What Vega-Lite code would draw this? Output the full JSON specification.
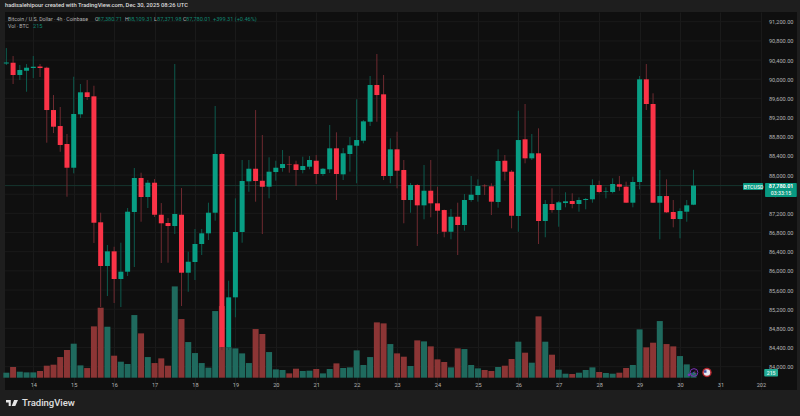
{
  "$schema": "https://vega.github.io/schema/vega-lite/v6.json",
  "width": 792,
  "height": 378,
  "autosize": "none",
  "padding": {"left": 5, "top": 12, "right": 3, "bottom": 26},
  "background": "#1e1e1e",
  "view": {"fill": "#0f0f0f", "stroke": null},
  "config": {"text": {"font": "Roboto"}, "axis": {"labelFont": "Roboto"}},
  "title": {
    "text": "hadisalehipour created with TradingView.com, Dec 30, 2025 08:26 UTC",
    "anchor": "start",
    "frame": "group",
    "font": "Roboto",
    "fontSize": 5.8,
    "fontWeight": 500,
    "color": "#dddddd",
    "offset": 4
  },
  "datasets": {
    "grid": [
      {"price": 84000, "from": "2025-12-13T07:12:00Z", "to": "2026-01-01T00:00:00Z"},
      {"price": 84400, "from": "2025-12-13T07:12:00Z", "to": "2026-01-01T00:00:00Z"},
      {"price": 84800, "from": "2025-12-13T07:12:00Z", "to": "2026-01-01T00:00:00Z"},
      {"price": 85200, "from": "2025-12-13T07:12:00Z", "to": "2026-01-01T00:00:00Z"},
      {"price": 85600, "from": "2025-12-13T07:12:00Z", "to": "2026-01-01T00:00:00Z"},
      {"price": 86000, "from": "2025-12-13T07:12:00Z", "to": "2026-01-01T00:00:00Z"},
      {"price": 86400, "from": "2025-12-13T07:12:00Z", "to": "2026-01-01T00:00:00Z"},
      {"price": 86800, "from": "2025-12-13T07:12:00Z", "to": "2026-01-01T00:00:00Z"},
      {"price": 87200, "from": "2025-12-13T07:12:00Z", "to": "2026-01-01T00:00:00Z"},
      {"price": 87600, "from": "2025-12-13T07:12:00Z", "to": "2026-01-01T00:00:00Z"},
      {"price": 88000, "from": "2025-12-13T07:12:00Z", "to": "2026-01-01T00:00:00Z"},
      {"price": 88400, "from": "2025-12-13T07:12:00Z", "to": "2026-01-01T00:00:00Z"},
      {"price": 88800, "from": "2025-12-13T07:12:00Z", "to": "2026-01-01T00:00:00Z"},
      {"price": 89200, "from": "2025-12-13T07:12:00Z", "to": "2026-01-01T00:00:00Z"},
      {"price": 89600, "from": "2025-12-13T07:12:00Z", "to": "2026-01-01T00:00:00Z"},
      {"price": 90000, "from": "2025-12-13T07:12:00Z", "to": "2026-01-01T00:00:00Z"},
      {"price": 90400, "from": "2025-12-13T07:12:00Z", "to": "2026-01-01T00:00:00Z"},
      {"price": 90800, "from": "2025-12-13T07:12:00Z", "to": "2026-01-01T00:00:00Z"},
      {"price": 91200, "from": "2025-12-13T07:12:00Z", "to": "2026-01-01T00:00:00Z"}
    ],
    "grayLabels": [
      {"label": "Bitcoin / U.S. Dollar · 4h · Coinbase", "when": "2025-12-13T08:59:00Z", "price": 91267},
      {"label": "O", "when": "2025-12-15T12:38:00Z", "price": 91267},
      {"label": "H", "when": "2025-12-16T06:27:00Z", "price": 91267},
      {"label": "L", "when": "2025-12-16T23:40:00Z", "price": 91267},
      {"label": "C", "when": "2025-12-17T16:53:00Z", "price": 91267},
      {"label": "Vol · BTC", "when": "2025-12-13T08:59:00Z", "price": 91121}
    ],
    "greenLabels": [
      {"label": "87,380.71", "when": "2025-12-15T14:07:00Z", "price": 91267},
      {"label": "88,109.31", "when": "2025-12-16T08:14:00Z", "price": 91267},
      {"label": "87,371.98", "when": "2025-12-17T01:27:00Z", "price": 91267},
      {"label": "87,780.01", "when": "2025-12-17T18:40:00Z", "price": 91267},
      {"label": "+399.31 (+0.46%)", "when": "2025-12-18T10:42:00Z", "price": 91267},
      {"label": "215", "when": "2025-12-13T23:49:00Z", "price": 91121}
    ],
    "lastLine": [
      {"price": 87780.01, "from": "2025-12-13T07:12:00Z", "to": "2025-12-31T13:24:00Z"}
    ],
    "priceTags": [
      {"from": "2025-12-31T13:24:00Z", "to": "2026-01-01T01:18:00Z", "top": 87834, "bottom": 87688},
      {"from": "2026-01-01T02:30:00Z", "to": "2026-01-01T21:20:00Z", "top": 87834, "bottom": 87542}
    ],
    "volumeTag": [
      {"from": "2026-01-01T02:00:00Z", "to": "2026-01-01T10:12:00Z", "top": 83950, "bottom": 83797}
    ],
    "tagLabels": [
      {"label": "BTCUSD", "when": "2025-12-31T19:42:00Z", "price": 87761},
      {"label": "03:33:15", "when": "2026-01-01T12:00:00Z", "price": 87618},
      {"label": "215", "when": "2026-01-01T06:06:00Z", "price": 83873}
    ],
    "lastPrice": [
      {"label": "87,780.01", "when": "2026-01-01T12:00:00Z", "price": 87774}
    ],
    "brand": [
      {"label": "TradingView", "when": "2025-12-13T17:18:00Z", "price": 83243}
    ],
    "logo": [
      {"when": "2025-12-13T11:21:00Z", "price": 83243}
    ],
    "ringIcon": [
      {"label": "⚡", "when": "2025-12-30T08:18:00Z", "price": 83879}
    ],
    "ringDot": [
      {"when": "2025-12-30T05:24:00Z", "price": 83830}
    ],
    "flagIcon": [
      {"when": "2025-12-30T16:00:00Z", "price": 83879}
    ],
    "flagCanton": [
      {"when": "2025-12-30T15:00:00Z", "price": 83900}
    ],
    "candles": [
      {"t":"2025-12-13T08:00:00Z","open":90328,"high":90651,"low":90296,"close":90349,"volume":215},
      {"t":"2025-12-13T12:00:00Z","open":90344,"high":90484,"low":89900,"close":90088,"volume":459},
      {"t":"2025-12-13T16:00:00Z","open":90088,"high":90296,"low":89983,"close":90192,"volume":258},
      {"t":"2025-12-13T20:00:00Z","open":90177,"high":90317,"low":89739,"close":90240,"volume":229},
      {"t":"2025-12-14T00:00:00Z","open":90234,"high":90484,"low":90025,"close":90261,"volume":229},
      {"t":"2025-12-14T04:00:00Z","open":90265,"high":90317,"low":90046,"close":90234,"volume":287},
      {"t":"2025-12-14T08:00:00Z","open":90240,"high":90261,"low":88675,"close":89357,"volume":516},
      {"t":"2025-12-14T12:00:00Z","open":89357,"high":89670,"low":88877,"close":89009,"volume":559},
      {"t":"2025-12-14T16:00:00Z","open":89023,"high":89420,"low":88487,"close":88627,"volume":888},
      {"t":"2025-12-14T20:00:00Z","open":88648,"high":88856,"low":87548,"close":88153,"volume":1189},
      {"t":"2025-12-15T00:00:00Z","open":88153,"high":90052,"low":88036,"close":89274,"volume":1462},
      {"t":"2025-12-15T04:00:00Z","open":89268,"high":89900,"low":89190,"close":89727,"volume":530},
      {"t":"2025-12-15T08:00:00Z","open":89727,"high":89983,"low":89566,"close":89629,"volume":415},
      {"t":"2025-12-15T12:00:00Z","open":89643,"high":89864,"low":86582,"close":87005,"volume":2207},
      {"t":"2025-12-15T16:00:00Z","open":87014,"high":87214,"low":85246,"close":86102,"volume":3009},
      {"t":"2025-12-15T20:00:00Z","open":86102,"high":86540,"low":85475,"close":86408,"volume":2192},
      {"t":"2025-12-16T00:00:00Z","open":86408,"high":86504,"low":85329,"close":85830,"volume":946},
      {"t":"2025-12-16T04:00:00Z","open":85830,"high":86588,"low":85246,"close":85983,"volume":688},
      {"t":"2025-12-16T08:00:00Z","open":85983,"high":87312,"low":85893,"close":87235,"volume":588},
      {"t":"2025-12-16T12:00:00Z","open":87229,"high":88147,"low":86081,"close":87938,"volume":2694},
      {"t":"2025-12-16T16:00:00Z","open":87938,"high":88049,"low":87026,"close":87542,"volume":1906},
      {"t":"2025-12-16T20:00:00Z","open":87542,"high":87896,"low":87312,"close":87840,"volume":888},
      {"t":"2025-12-17T00:00:00Z","open":87840,"high":87917,"low":87124,"close":87172,"volume":630},
      {"t":"2025-12-17T04:00:00Z","open":87172,"high":87416,"low":86164,"close":86993,"volume":831},
      {"t":"2025-12-17T08:00:00Z","open":86999,"high":87103,"low":86171,"close":86936,"volume":516},
      {"t":"2025-12-17T12:00:00Z","open":86936,"high":90317,"low":86769,"close":87187,"volume":3926},
      {"t":"2025-12-17T16:00:00Z","open":87172,"high":87729,"low":85267,"close":85962,"volume":2522},
      {"t":"2025-12-17T20:00:00Z","open":85962,"high":86400,"low":85565,"close":86191,"volume":1533},
      {"t":"2025-12-18T00:00:00Z","open":86185,"high":86874,"low":85809,"close":86561,"volume":1060},
      {"t":"2025-12-18T04:00:00Z","open":86561,"high":86874,"low":86331,"close":86784,"volume":630},
      {"t":"2025-12-18T08:00:00Z","open":86784,"high":87423,"low":86644,"close":87214,"volume":430},
      {"t":"2025-12-18T12:00:00Z","open":87214,"high":89441,"low":87047,"close":88439,"volume":2866},
      {"t":"2025-12-18T16:00:00Z","open":88439,"high":88466,"low":84348,"close":84411,"volume":3081},
      {"t":"2025-12-18T20:00:00Z","open":84405,"high":85795,"low":84348,"close":85448,"volume":1304},
      {"t":"2025-12-19T00:00:00Z","open":85448,"high":87514,"low":85031,"close":86811,"volume":1261},
      {"t":"2025-12-19T04:00:00Z","open":86811,"high":88314,"low":86588,"close":87876,"volume":1046},
      {"t":"2025-12-19T08:00:00Z","open":87869,"high":88314,"low":87652,"close":88132,"volume":630},
      {"t":"2025-12-19T12:00:00Z","open":88132,"high":89357,"low":87444,"close":87876,"volume":2092},
      {"t":"2025-12-19T16:00:00Z","open":87882,"high":88836,"low":86769,"close":87757,"volume":1877},
      {"t":"2025-12-19T20:00:00Z","open":87757,"high":88370,"low":87514,"close":88070,"volume":1103},
      {"t":"2025-12-20T00:00:00Z","open":88063,"high":88299,"low":87882,"close":88153,"volume":358},
      {"t":"2025-12-20T04:00:00Z","open":88147,"high":88522,"low":88070,"close":88230,"volume":330},
      {"t":"2025-12-20T08:00:00Z","open":88230,"high":88397,"low":88049,"close":88222,"volume":186},
      {"t":"2025-12-20T12:00:00Z","open":88224,"high":88299,"low":87771,"close":88105,"volume":387},
      {"t":"2025-12-20T16:00:00Z","open":88105,"high":88383,"low":88036,"close":88189,"volume":287},
      {"t":"2025-12-20T20:00:00Z","open":88174,"high":88397,"low":88120,"close":88314,"volume":301},
      {"t":"2025-12-21T00:00:00Z","open":88299,"high":88418,"low":87813,"close":88022,"volume":373},
      {"t":"2025-12-21T04:00:00Z","open":88022,"high":88147,"low":87980,"close":88132,"volume":186},
      {"t":"2025-12-21T08:00:00Z","open":88120,"high":89044,"low":88042,"close":88558,"volume":373},
      {"t":"2025-12-21T12:00:00Z","open":88558,"high":88892,"low":87479,"close":88022,"volume":616},
      {"t":"2025-12-21T16:00:00Z","open":88015,"high":88564,"low":87896,"close":88454,"volume":416},
      {"t":"2025-12-21T20:00:00Z","open":88439,"high":88794,"low":88070,"close":88621,"volume":444},
      {"t":"2025-12-22T00:00:00Z","open":88612,"high":89581,"low":87828,"close":88731,"volume":1175},
      {"t":"2025-12-22T04:00:00Z","open":88717,"high":89149,"low":88662,"close":89121,"volume":545},
      {"t":"2025-12-22T08:00:00Z","open":89113,"high":90067,"low":89023,"close":89879,"volume":888},
      {"t":"2025-12-22T12:00:00Z","open":89879,"high":90526,"low":89113,"close":89670,"volume":2379},
      {"t":"2025-12-22T16:00:00Z","open":89685,"high":90088,"low":87896,"close":87980,"volume":2336},
      {"t":"2025-12-22T20:00:00Z","open":87980,"high":88767,"low":87828,"close":88537,"volume":1447},
      {"t":"2025-12-23T00:00:00Z","open":88537,"high":88904,"low":87723,"close":88091,"volume":1046},
      {"t":"2025-12-23T04:00:00Z","open":88105,"high":88314,"low":86993,"close":87479,"volume":903},
      {"t":"2025-12-23T08:00:00Z","open":87479,"high":87834,"low":87214,"close":87792,"volume":502},
      {"t":"2025-12-23T12:00:00Z","open":87792,"high":87813,"low":86519,"close":87368,"volume":1605},
      {"t":"2025-12-23T16:00:00Z","open":87368,"high":88209,"low":87076,"close":87673,"volume":1562},
      {"t":"2025-12-23T20:00:00Z","open":87673,"high":88314,"low":87118,"close":87410,"volume":1347},
      {"t":"2025-12-24T00:00:00Z","open":87410,"high":87757,"low":86769,"close":87256,"volume":788},
      {"t":"2025-12-24T04:00:00Z","open":87270,"high":87280,"low":86701,"close":86817,"volume":674},
      {"t":"2025-12-24T08:00:00Z","open":86817,"high":87291,"low":86659,"close":87130,"volume":444},
      {"t":"2025-12-24T12:00:00Z","open":87130,"high":87423,"low":86331,"close":86957,"volume":1261},
      {"t":"2025-12-24T16:00:00Z","open":86957,"high":87604,"low":86838,"close":87479,"volume":1232},
      {"t":"2025-12-24T20:00:00Z","open":87479,"high":87980,"low":87444,"close":87590,"volume":545},
      {"t":"2025-12-25T00:00:00Z","open":87583,"high":87911,"low":87444,"close":87771,"volume":401},
      {"t":"2025-12-25T04:00:00Z","open":87777,"high":87807,"low":87583,"close":87769,"volume":330},
      {"t":"2025-12-25T08:00:00Z","open":87765,"high":87828,"low":87166,"close":87444,"volume":287},
      {"t":"2025-12-25T12:00:00Z","open":87437,"high":88537,"low":87318,"close":88293,"volume":459},
      {"t":"2025-12-25T16:00:00Z","open":88299,"high":88418,"low":87882,"close":88070,"volume":516},
      {"t":"2025-12-25T20:00:00Z","open":88070,"high":88105,"low":86888,"close":87151,"volume":803},
      {"t":"2025-12-26T00:00:00Z","open":87145,"high":89343,"low":86817,"close":88731,"volume":1548},
      {"t":"2025-12-26T04:00:00Z","open":88746,"high":89483,"low":88245,"close":88349,"volume":1075},
      {"t":"2025-12-26T08:00:00Z","open":88349,"high":88856,"low":88314,"close":88454,"volume":645},
      {"t":"2025-12-26T12:00:00Z","open":88454,"high":88975,"low":86561,"close":87041,"volume":2637},
      {"t":"2025-12-26T16:00:00Z","open":87041,"high":87479,"low":86701,"close":87396,"volume":1548},
      {"t":"2025-12-26T20:00:00Z","open":87396,"high":87723,"low":87214,"close":87270,"volume":989},
      {"t":"2025-12-27T00:00:00Z","open":87270,"high":87458,"low":86922,"close":87431,"volume":344},
      {"t":"2025-12-27T04:00:00Z","open":87416,"high":87640,"low":87327,"close":87452,"volume":172},
      {"t":"2025-12-27T08:00:00Z","open":87458,"high":87619,"low":87306,"close":87396,"volume":158},
      {"t":"2025-12-27T12:00:00Z","open":87396,"high":87535,"low":87235,"close":87479,"volume":215},
      {"t":"2025-12-27T16:00:00Z","open":87479,"high":87521,"low":87285,"close":87500,"volume":330},
      {"t":"2025-12-27T20:00:00Z","open":87494,"high":87911,"low":87423,"close":87792,"volume":444},
      {"t":"2025-12-28T00:00:00Z","open":87792,"high":87882,"low":87619,"close":87646,"volume":244},
      {"t":"2025-12-28T04:00:00Z","open":87646,"high":87744,"low":87514,"close":87658,"volume":201},
      {"t":"2025-12-28T08:00:00Z","open":87646,"high":87932,"low":87619,"close":87813,"volume":172},
      {"t":"2025-12-28T12:00:00Z","open":87807,"high":87980,"low":87673,"close":87757,"volume":215},
      {"t":"2025-12-28T16:00:00Z","open":87757,"high":87861,"low":87416,"close":87423,"volume":416},
      {"t":"2025-12-28T20:00:00Z","open":87423,"high":87965,"low":87327,"close":87855,"volume":545},
      {"t":"2025-12-29T00:00:00Z","open":87855,"high":90067,"low":87702,"close":89998,"volume":2078},
      {"t":"2025-12-29T04:00:00Z","open":89998,"high":90317,"low":89357,"close":89483,"volume":1304},
      {"t":"2025-12-29T08:00:00Z","open":89483,"high":89706,"low":87416,"close":87423,"volume":1505},
      {"t":"2025-12-29T12:00:00Z","open":87423,"high":88105,"low":86659,"close":87562,"volume":2436},
      {"t":"2025-12-29T16:00:00Z","open":87562,"high":87911,"low":87208,"close":87222,"volume":1447},
      {"t":"2025-12-29T20:00:00Z","open":87229,"high":87479,"low":86909,"close":87082,"volume":1347},
      {"t":"2025-12-30T00:00:00Z","open":87082,"high":87306,"low":86680,"close":87249,"volume":931},
      {"t":"2025-12-30T04:00:00Z","open":87235,"high":87479,"low":87026,"close":87368,"volume":573},
      {"t":"2025-12-30T08:00:00Z","open":87380.71,"high":88109.31,"low":87371.98,"close":87780.01,"volume":215}
    ]
  },
  "data": {"name": "candles"},
  "encoding": {
    "x": {
      "field": "t",
      "type": "temporal",
      "title": null,
      "scale": {
        "type": "utc",
        "padding": 0,
        "domain": [
          {"year": 2025, "month": 12, "date": 13, "hours": 7, "minutes": 12, "utc": true},
          {"year": 2026, "month": 1, "date": 1, "hours": 21, "minutes": 28, "utc": true}
        ]
      },
      "axis": {
        "tickCount": {"interval": "day", "step": 1},
        "labelExpr": "utcdate(datum.value) == 1 ? '202' : utcFormat(datum.value, '%-d')",
        "domain": false,
        "ticks": false,
        "grid": true,
        "gridColor": "#1a1a1a",
        "gridWidth": 1,
        "labelFontSize": 5.6,
        "labelColor": "#b4b4b4",
        "labelBaseline": "middle",
        "labelPadding": -6,
        "labelOverlap": false,
        "labelFlush": false
      }
    }
  },
  "layer": [
    {
      "data": {"name": "grid"},
      "mark": {"type": "rule", "color": "#1a1a1a", "strokeWidth": 1},
      "encoding": {
        "x": {"field": "from", "type": "temporal", "title": null},
        "x2": {"field": "to"},
        "y": {"field": "price", "type": "quantitative", "title": null, "axis": null, "scale": {"domain": [83514, 91403], "nice": false, "zero": false}}
      }
    },
    {
      "mark": {"type": "bar", "width": 6},
      "encoding": {
        "y": {"field": "volume", "type": "quantitative", "title": null, "axis": null, "stack": null, "scale": {"domain": [-529, 15725], "nice": false, "zero": false}},
        "color": {
          "condition": {"test": "datum.close >= datum.open", "value": "#1f6a5e"},
          "value": "#8c3535"
        }
      }
    },
    {
      "layer": [
        {
          "data": {"name": "lastLine"},
          "mark": {"type": "rule", "color": "#16352f", "strokeWidth": 1},
          "encoding": {
            "x": {"field": "from", "type": "temporal", "title": null},
            "x2": {"field": "to"},
            "y": {"field": "price", "type": "quantitative", "title": null}
          }
        },
        {
          "mark": {"type": "rule", "strokeWidth": 1},
          "encoding": {
            "y": {
              "field": "low",
              "type": "quantitative",
              "title": null,
              "scale": {"domain": [83514, 91403], "nice": false, "zero": false},
              "axis": {
                "orient": "right",
                "tickCount": 30,
                "values": [84000, 84400, 84800, 85200, 85600, 86000, 86400, 86800, 87200, 87600, 88000, 88400, 88800, 89200, 89600, 90000, 90400, 90800, 91200],
                "format": ",.2f",
                "domain": false,
                "ticks": false,
                "grid": false,
                "labelFontSize": 5.6,
                "labelColor": "#b4b4b4",
                "labelAlign": "right",
                "labelPadding": -4,
                "labelOverlap": false
              }
            },
            "y2": {"field": "high"},
            "color": {
              "condition": {"test": "datum.close >= datum.open", "value": "#0d5a4d"},
              "value": "#6e2a30"
            }
          }
        },
        {
          "mark": {"type": "bar", "width": 5},
          "encoding": {
            "y": {"field": "open", "type": "quantitative", "stack": null, "title": null},
            "y2": {"field": "close"},
            "color": {
              "condition": {"test": "datum.close >= datum.open", "value": "#089e84"},
              "value": "#fb3347"
            }
          }
        },
        {
          "data": {"name": "grayLabels"},
          "mark": {"type": "text", "align": "left", "baseline": "middle", "fontSize": 5.2, "color": "#b4b4b4"},
          "encoding": {
            "x": {"field": "when", "type": "temporal", "title": null},
            "y": {"field": "price", "type": "quantitative", "title": null},
            "text": {"field": "label"}
          }
        },
        {
          "data": {"name": "greenLabels"},
          "mark": {"type": "text", "align": "left", "baseline": "middle", "fontSize": 5.6, "color": "#0f8570"},
          "encoding": {
            "x": {"field": "when", "type": "temporal", "title": null},
            "y": {"field": "price", "type": "quantitative", "title": null},
            "text": {"field": "label"}
          }
        },
        {
          "data": {"name": "priceTags"},
          "mark": {"type": "rect", "color": "#089981", "cornerRadius": 1},
          "encoding": {
            "x": {"field": "from", "type": "temporal", "title": null},
            "x2": {"field": "to"},
            "y": {"field": "top", "type": "quantitative", "title": null},
            "y2": {"field": "bottom"}
          }
        },
        {
          "data": {"name": "volumeTag"},
          "mark": {"type": "rect", "color": "#22ab94", "cornerRadius": 1},
          "encoding": {
            "x": {"field": "from", "type": "temporal", "title": null},
            "x2": {"field": "to"},
            "y": {"field": "top", "type": "quantitative", "title": null},
            "y2": {"field": "bottom"}
          }
        },
        {
          "data": {"name": "tagLabels"},
          "mark": {"type": "text", "align": "center", "baseline": "middle", "fontSize": 5.2, "fontWeight": 500, "color": "#e8f5f2"},
          "encoding": {
            "x": {"field": "when", "type": "temporal", "title": null},
            "y": {"field": "price", "type": "quantitative", "title": null},
            "text": {"field": "label"}
          }
        },
        {
          "data": {"name": "lastPrice"},
          "mark": {"type": "text", "align": "center", "baseline": "middle", "fontSize": 5.4, "fontWeight": 700, "color": "#ffffff"},
          "encoding": {
            "x": {"field": "when", "type": "temporal", "title": null},
            "y": {"field": "price", "type": "quantitative", "title": null},
            "text": {"field": "label"}
          }
        },
        {
          "data": {"name": "ringIcon"},
          "mark": {"type": "point", "shape": "circle", "size": 60, "filled": false, "strokeWidth": 1, "color": "#7b2fb5", "opacity": 1},
          "encoding": {
            "x": {"field": "when", "type": "temporal", "title": null},
            "y": {"field": "price", "type": "quantitative", "title": null}
          }
        },
        {
          "data": {"name": "ringIcon"},
          "mark": {"type": "text", "font": "DejaVu Sans", "align": "center", "baseline": "middle", "fontSize": 6, "color": "#8f45c9"},
          "encoding": {
            "x": {"field": "when", "type": "temporal", "title": null},
            "y": {"field": "price", "type": "quantitative", "title": null},
            "text": {"field": "label"}
          }
        },
        {
          "data": {"name": "ringDot"},
          "mark": {"type": "point", "shape": "circle", "size": 8, "filled": true, "color": "#7b2fb5", "opacity": 1},
          "encoding": {
            "x": {"field": "when", "type": "temporal", "title": null},
            "y": {"field": "price", "type": "quantitative", "title": null}
          }
        },
        {
          "data": {"name": "flagIcon"},
          "mark": {"type": "point", "shape": "circle", "size": 90, "filled": true, "color": "#b3262e", "opacity": 1},
          "encoding": {
            "x": {"field": "when", "type": "temporal", "title": null},
            "y": {"field": "price", "type": "quantitative", "title": null}
          }
        },
        {
          "data": {"name": "flagIcon"},
          "mark": {"type": "point", "shape": "circle", "size": 42, "filled": true, "color": "#e6e6f0", "opacity": 1},
          "encoding": {
            "x": {"field": "when", "type": "temporal", "title": null},
            "y": {"field": "price", "type": "quantitative", "title": null}
          }
        },
        {
          "data": {"name": "flagCanton"},
          "mark": {"type": "point", "shape": "square", "size": 6, "filled": true, "color": "#3b4fa0", "opacity": 1},
          "encoding": {
            "x": {"field": "when", "type": "temporal", "title": null},
            "y": {"field": "price", "type": "quantitative", "title": null}
          }
        },
        {
          "data": {"name": "logo"},
          "mark": {
            "type": "point",
            "shape": "M-1,-0.5 H-0.2 V0.5 H-0.55 V-0.1 H-1 Z M0.35,-0.5 H1 L0.55,0.5 H-0.05 Z",
            "size": 144,
            "filled": true,
            "color": "#e6e6e6",
            "opacity": 1
          },
          "encoding": {
            "x": {"field": "when", "type": "temporal", "title": null},
            "y": {"field": "price", "type": "quantitative", "title": null}
          }
        },
        {
          "data": {"name": "brand"},
          "mark": {"type": "text", "align": "left", "baseline": "middle", "fontSize": 9.5, "fontWeight": 500, "color": "#e0e0e0"},
          "encoding": {
            "x": {"field": "when", "type": "temporal", "title": null},
            "y": {"field": "price", "type": "quantitative", "title": null},
            "text": {"field": "label"}
          }
        }
      ]
    }
  ],
  "resolve": {"scale": {"y": "independent"}}
}
